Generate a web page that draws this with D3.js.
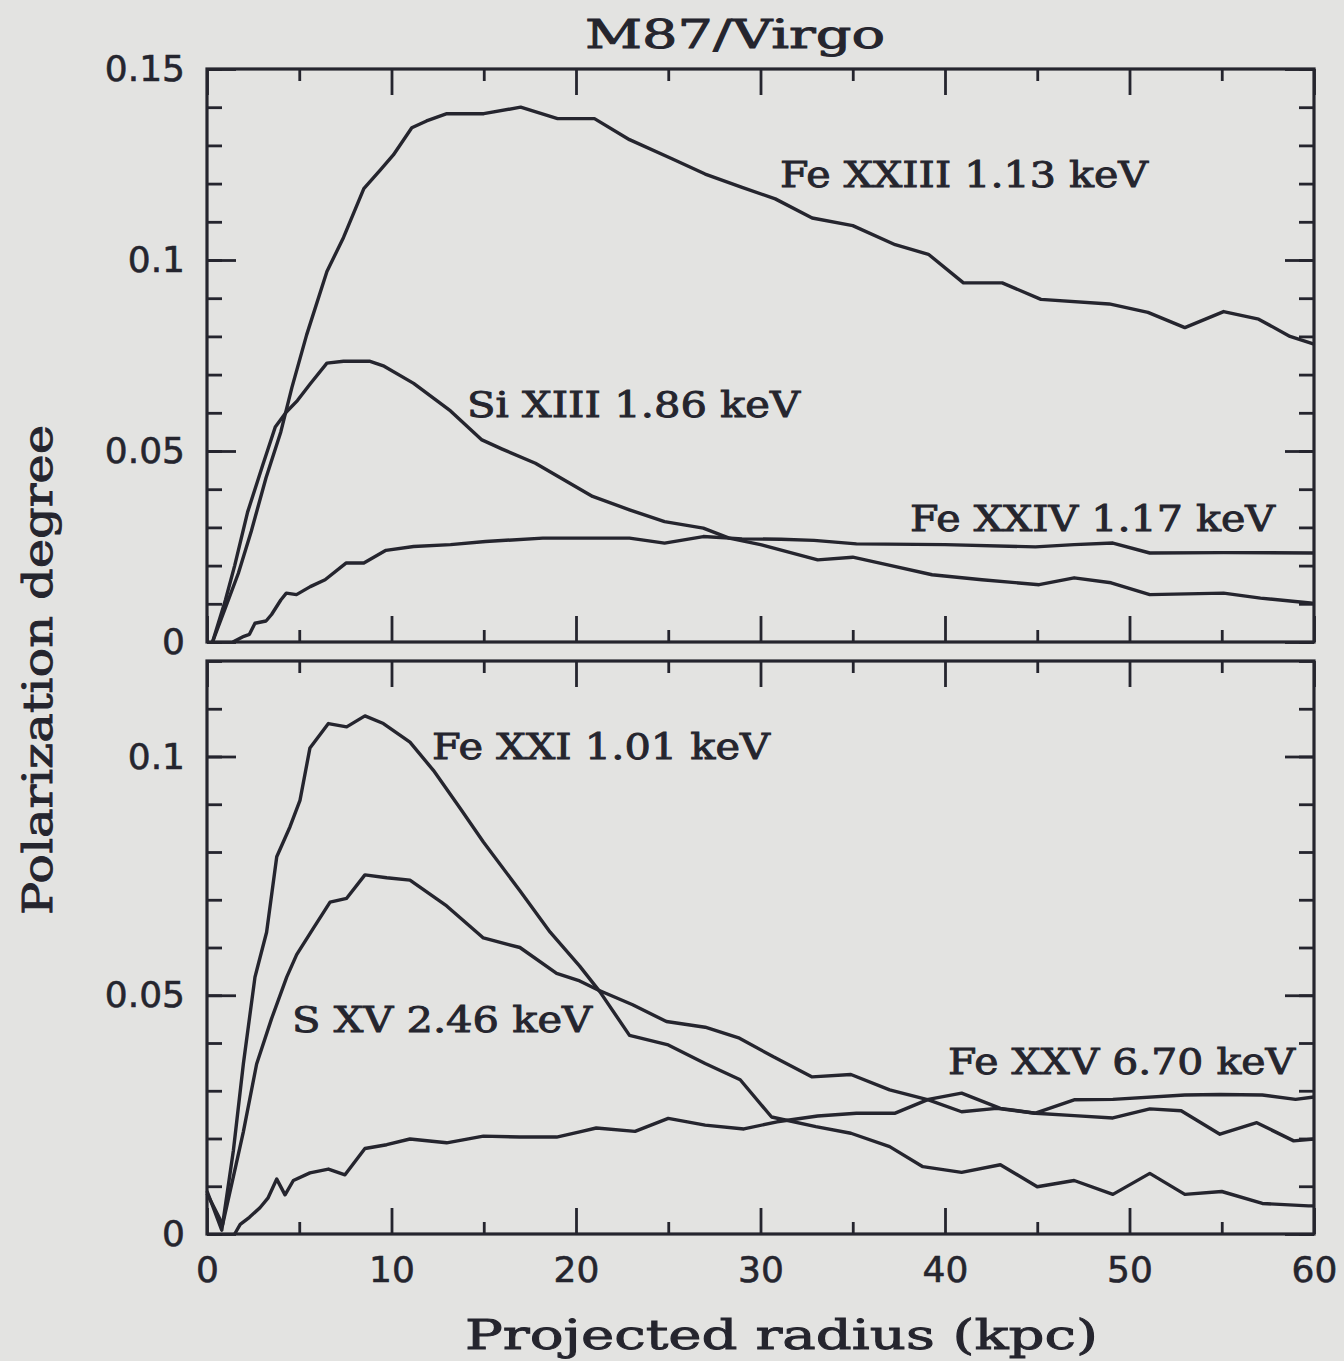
<!DOCTYPE html>
<html>
<head>
<meta charset="utf-8">
<script src="https://cdn.jsdelivr.net/npm/d3@7"></script>
<style>
  html, body { margin: 0; padding: 0; background: #e3e3e1; }
  svg { display: block; }
  .tick text { font-family: "DejaVu Sans", sans-serif; font-size: 36px; fill: #25252e;
               stroke: #25252e; stroke-width: 0.6px; }
</style>
</head>
<body>
<script>
// radius (kpc) vs polarization degree
var feXXIII = [[0.3,0],[1.0,0.009],[1.7,0.018],[2.4,0.029],[3.2,0.043],[4.0,0.055],[4.6,0.0666],
  [5.4,0.0804],[6.5,0.097],[7.4,0.1059],[8.5,0.1187],[9.4,0.1236],[10.1,0.1275],[11.1,0.1346],
  [11.9,0.1364],[13.0,0.1383],[15.0,0.1383],[17.0,0.140],[19.0,0.137],[21.0,0.137],[22.9,0.1315],
  [25.2,0.1265],[27.0,0.1225],[29.0,0.119],[30.8,0.116],[32.8,0.111],[35.0,0.109],[37.3,0.104],
  [39.1,0.1015],[41.0,0.094],[43.1,0.094],[45.2,0.0897],[48.9,0.0885],[51.0,0.0863],[53.0,0.0823],
  [55.1,0.0865],[57.0,0.0845],[58.7,0.080],[60,0.078]];

var siXIII = [[0.3,0],[1.0,0.011],[1.5,0.02],[2.2,0.034],[3.0,0.046],[3.7,0.0563],[4.3,0.0602],
  [4.9,0.0632],[5.6,0.0676],[6.5,0.073],[7.4,0.0735],[8.8,0.0735],[9.6,0.0722],[11.2,0.0677],
  [13.2,0.0605],[14.9,0.0529],[16.0,0.0505],[17.8,0.0468],[20.9,0.0381],[22.9,0.0346],[24.8,0.0315],
  [26.9,0.0298],[28.3,0.0272],[30.0,0.0255],[33.1,0.0215],[35.0,0.0222],[36.9,0.0202],[39.3,0.0176],
  [42.0,0.0163],[45.1,0.015],[47.0,0.0168],[49.0,0.0155],[51.1,0.0124],[55.1,0.0128],[57.1,0.0115],
  [59.8,0.0102],[60,0.0101]];

var feXXIV = [[1.4,0],[2.0,0.0015],[2.3,0.002],[2.6,0.0049],[3.2,0.0055],[3.5,0.0072],[4.0,0.011],
  [4.3,0.0128],[4.85,0.0124],[5.6,0.0145],[6.4,0.0163],[7.55,0.0207],[8.5,0.0207],[9.7,0.024],
  [11.2,0.025],[13.2,0.0255],[15.1,0.0263],[18.2,0.0272],[20.1,0.0272],[22.9,0.0272],[24.8,0.0259],
  [26.9,0.0276],[29.0,0.027],[31.1,0.0269],[32.9,0.0266],[35.2,0.0257],[40.0,0.0255],[44.9,0.0249],
  [47.0,0.0255],[49.1,0.0259],[51.1,0.0233],[55.1,0.0234],[60,0.0233]];

var feXXI = [[0,0.009],[0.8,0.0008],[1.43,0.0175],[1.97,0.0356],[2.6,0.0538],[3.23,0.0632],[3.78,0.079],
  [4.5,0.0853],[5.04,0.0908],[5.58,0.1018],[6.58,0.1069],[7.57,0.1062],[8.56,0.1085],[9.56,0.1069],
  [11.0,0.103],[12.27,0.0971],[13.71,0.0892],[14.98,0.0821],[16.96,0.0719],[18.6,0.0632],[20.2,0.0561],
  [21.3,0.0507],[22.9,0.0416],[25.0,0.0396],[27.0,0.0357],[28.9,0.0323],[30.6,0.0245],[33.0,0.0225],
  [34.9,0.0211],[37.0,0.0183],[38.8,0.0141],[40.9,0.0129],[43.0,0.0145],[45.0,0.0099],[47.0,0.0112],
  [49.1,0.0083],[51.1,0.0127],[53.0,0.0083],[55.0,0.0089],[57.2,0.0064],[59.7,0.0059],[60,0.0059]];

var sXV = [[0,0.0085],[0.85,0.002],[1.43,0.012],[1.97,0.0214],[2.69,0.0356],[3.5,0.0451],[4.32,0.0538],
  [4.86,0.0585],[5.76,0.064],[6.67,0.0695],[7.57,0.0703],[8.56,0.0752],[9.74,0.0746],[11.0,0.0741],
  [12.99,0.0687],[14.98,0.062],[16.96,0.06],[18.95,0.0546],[20.2,0.053],[21.2,0.0511],[23.07,0.048],
  [24.9,0.0445],[27.0,0.0433],[28.86,0.041],[30.7,0.0371],[32.8,0.0329],[34.9,0.0334],[37.0,0.0302],
  [39.1,0.0281],[40.9,0.0256],[42.8,0.0263],[44.9,0.0253],[47.0,0.0248],[49.1,0.0243],[51.1,0.0262],
  [52.8,0.0258],[54.9,0.0209],[56.9,0.0233],[58.9,0.0195],[60,0.0199]];

var feXXV = [[1.5,0],[1.8,0.002],[2.3,0.0035],[2.87,0.0055],[3.3,0.0075],[3.78,0.0115],[4.23,0.0082],
  [4.68,0.0112],[5.58,0.0128],[6.58,0.0136],[7.48,0.0124],[8.56,0.0179],[9.74,0.0187],[11.0,0.0199],
  [12.99,0.0191],[14.98,0.0205],[16.96,0.0203],[18.95,0.0203],[20.2,0.0214],[21.1,0.0222],[23.2,0.0215],
  [25.0,0.0242],[27.0,0.0228],[29.1,0.022],[30.9,0.0235],[33.1,0.0247],[35.2,0.0253],[37.3,0.0253],
  [39.1,0.0282],[40.9,0.0295],[43.0,0.0263],[44.9,0.0253],[47.0,0.0281],[49.1,0.0282],[53.0,0.0291],
  [54.9,0.0292],[57.2,0.0291],[59.0,0.0282],[60,0.0287]];

var xMajor = [0, 10, 20, 30, 40, 50, 60];
var xMinor = [5, 15, 25, 35, 45, 55];
var topYLabels = [0, 0.05, 0.1, 0.15];
var botYLabels = [0, 0.05, 0.1];

var ink = "#25252e";
var W = 1344, H = 1361;
var left = 207, plotW = 1107, plotH = 573;

var svg = d3.select("body").append("svg")
  .attr("width", W).attr("height", H);

svg.append("rect").attr("width", W).attr("height", H).attr("fill", "#e3e3e1");

var x = d3.scaleLinear().domain([0, 60]).range([0, plotW]);

function addText(str, xPos, yPos, len, size, transform) {
  var t = svg.append("text")
    .attr("textLength", len).attr("lengthAdjust", "spacingAndGlyphs")
    .attr("font-family", "DejaVu Serif, serif").attr("font-size", size)
    .attr("fill", ink).attr("stroke", ink).attr("stroke-width", 0.9)
    .text(str);
  if (transform) t.attr("transform", transform);
  else t.attr("x", xPos).attr("y", yPos);
  return t;
}

function drawPanel(top, yMax, labels, series, texts, showX) {
  var y = d3.scaleLinear().domain([0, yMax]).range([plotH, 0]);
  var g = svg.append("g").attr("transform", "translate(" + left + "," + top + ")");

  var minorY = d3.range(0, yMax + 1e-9, 0.01).map(function(v){ return +v.toFixed(2); });
  var majorY = minorY.filter(function(v){ return Math.abs(v / 0.05 - Math.round(v / 0.05)) < 1e-6; });

  // ticks on all four sides, pointing in
  function tickAxis(axis, transform) {
    var a = g.append("g").attr("transform", transform).call(axis);
    a.select(".domain").remove();
    a.selectAll("line").attr("stroke", ink).attr("stroke-width", 2.8);
    return a;
  }
  tickAxis(d3.axisBottom(x).tickValues(xMajor).tickSize(-26).tickFormat(""), "translate(0," + plotH + ")");
  tickAxis(d3.axisBottom(x).tickValues(xMinor).tickSize(-12).tickFormat(""), "translate(0," + plotH + ")");
  tickAxis(d3.axisTop(x).tickValues(xMajor).tickSize(-26).tickFormat(""), "translate(0,0)");
  tickAxis(d3.axisTop(x).tickValues(xMinor).tickSize(-12).tickFormat(""), "translate(0,0)");
  tickAxis(d3.axisLeft(y).tickValues(minorY).tickSize(-15).tickFormat(""), "translate(0,0)");
  tickAxis(d3.axisLeft(y).tickValues(majorY).tickSize(-29).tickFormat(""), "translate(0,0)");
  tickAxis(d3.axisRight(y).tickValues(minorY).tickSize(-15).tickFormat(""), "translate(" + plotW + ",0)");
  tickAxis(d3.axisRight(y).tickValues(majorY).tickSize(-29).tickFormat(""), "translate(" + plotW + ",0)");

  // y tick labels
  var yl = g.append("g").call(d3.axisLeft(y).tickValues(labels).tickSize(0).tickPadding(22)
    .tickFormat(function(d){ return d === 0 ? "0" : String(d); }));
  yl.select(".domain").remove();

  if (showX) {
    var xl = g.append("g").attr("transform", "translate(0," + plotH + ")")
      .call(d3.axisBottom(x).tickValues(xMajor).tickSize(0).tickPadding(22).tickFormat(d3.format("d")));
    xl.select(".domain").remove();
  }

  var line = d3.line().x(function(d){ return x(d[0]); }).y(function(d){ return y(d[1]); });
  series.forEach(function(s) {
    g.append("path").datum(s).attr("d", line)
      .attr("fill", "none").attr("stroke", ink).attr("stroke-width", 3.4)
      .attr("stroke-linejoin", "round");
  });

  g.append("rect").attr("width", plotW).attr("height", plotH)
    .attr("fill", "none").attr("stroke", ink).attr("stroke-width", 3.2);

  texts.forEach(function(t) {
    addText(t[0], t[1], t[2], t[3], 35);
  });
}

drawPanel(69, 0.15, topYLabels, [feXXIII, siXIII, feXXIV], [
  ["Fe XXIII 1.13 keV", 780, 187, 368],
  ["Si XIII 1.86 keV", 467, 417, 333],
  ["Fe XXIV 1.17 keV", 910, 531, 365]
], false);

drawPanel(661, 0.12, botYLabels, [feXXI, sXV, feXXV], [
  ["Fe XXI 1.01 keV", 432, 759, 338],
  ["S XV 2.46 keV", 292, 1032, 300],
  ["Fe XXV 6.70 keV", 948, 1074, 347]
], true);

// title and axis titles
addText("M87/Virgo", 585, 48, 300, 40);
addText("Projected radius (kpc)", 465, 1349, 633, 41);
addText("Polarization degree", 0, 0, 490, 41, "translate(52,915) rotate(-90)");
</script>
</body>
</html>
